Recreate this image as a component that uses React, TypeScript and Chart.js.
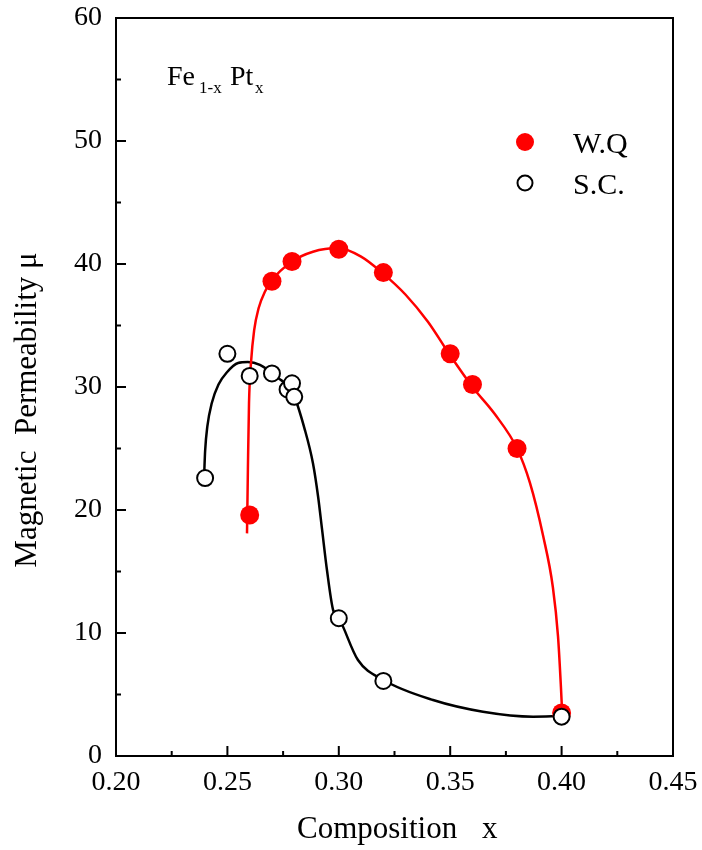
import React, { useEffect, useRef } from "react";
import { Chart, registerables } from "chart.js";

Chart.register(...registerables);

// Measured points
const wqX = [0.26, 0.27, 0.279, 0.30, 0.32, 0.35, 0.36, 0.38, 0.40];
const wqY = [19.6, 38.6, 40.2, 41.2, 39.3, 32.7, 30.2, 25.0, 3.5];
const scX = [0.24, 0.25, 0.26, 0.27, 0.277, 0.279, 0.28, 0.30, 0.32, 0.40];
const scY = [22.6, 32.7, 30.9, 31.1, 29.8, 30.3, 29.2, 11.2, 6.1, 3.2];

// Guide curves (traced)
const wqCurveX = [0.2588, 0.2592, 0.2597, 0.2606, 0.2620, 0.2640, 0.2670, 0.2696, 0.279, 0.2884, 0.2996, 0.31, 0.3194, 0.33, 0.34, 0.3495, 0.36, 0.37, 0.38, 0.3858, 0.3917, 0.3961, 0.3984, 0.3997, 0.4002];
const wqCurveY = [18.1, 23.3, 28.7, 32.0, 34.6, 36.4, 37.8, 38.6, 40.2, 41.0, 41.3, 40.6, 39.3, 37.5, 35.3, 32.7, 30.0, 27.8, 25.0, 22.2, 17.9, 13.7, 9.7, 5.6, 3.7];
const scCurveX = [0.2396, 0.2400, 0.2410, 0.2430, 0.2460, 0.2498, 0.2548, 0.2592, 0.2646, 0.2723, 0.2794, 0.2848, 0.2884, 0.2907, 0.2925, 0.2947, 0.2974, 0.3001, 0.3086, 0.3198, 0.3423, 0.3647, 0.3872, 0.3997];
const scCurveY = [23.0, 24.8, 26.8, 28.7, 30.2, 31.2, 31.95, 32.03, 31.8, 30.8, 29.5, 26.5, 23.8, 21.1, 18.4, 15.1, 11.9, 11.2, 7.8, 6.2, 4.55, 3.6, 3.2, 3.25];

const xTicks = [0.2, 0.25, 0.3, 0.35, 0.4, 0.45];
const yTicks = [0, 10, 20, 30, 40, 50, 60];
const xMinor = [0.225, 0.275, 0.325, 0.375, 0.425];
const yMinor = [5, 15, 25, 35, 45, 55];

const FONT = "'Liberation Serif', 'Times New Roman', serif";

const pts = (xs: number[], ys: number[]) => xs.map((x, i) => ({ x, y: ys[i] }));

const decorPlugin = {
  id: "decor",
  afterDraw(chart: any) {
    const { ctx, chartArea } = chart;
    const { left, right, top, bottom } = chartArea;
    const xs = chart.scales.x;
    const ys = chart.scales.y;
    ctx.save();
    ctx.strokeStyle = "#000";
    ctx.lineWidth = 2;
    ctx.strokeRect(left, top, right - left, bottom - top);
    ctx.beginPath();
    xTicks.forEach((v) => {
      const p = xs.getPixelForValue(v);
      ctx.moveTo(p, bottom);
      ctx.lineTo(p, bottom - 10);
    });
    xMinor.forEach((v) => {
      const p = xs.getPixelForValue(v);
      ctx.moveTo(p, bottom);
      ctx.lineTo(p, bottom - 5);
    });
    yTicks.forEach((v) => {
      const p = ys.getPixelForValue(v);
      ctx.moveTo(left, p);
      ctx.lineTo(left + 10, p);
    });
    yMinor.forEach((v) => {
      const p = ys.getPixelForValue(v);
      ctx.moveTo(left, p);
      ctx.lineTo(left + 5, p);
    });
    ctx.stroke();

    // axis titles
    ctx.fillStyle = "#000";
    ctx.font = `31px ${FONT}`;
    ctx.textAlign = "left";
    ctx.textBaseline = "alphabetic";
    ctx.fillText("Composition", 297, 838);
    ctx.fillText("x", 482, 838);
    ctx.save();
    ctx.translate(36, 410);
    ctx.rotate(-Math.PI / 2);
    ctx.textAlign = "center";
    ctx.fillText("Magnetic  Permeability \u03bc", 0, 0);
    ctx.restore();

    // formula label
    ctx.textAlign = "left";
    ctx.font = `28px ${FONT}`;
    ctx.fillText("Fe", 167, 85);
    ctx.font = `17px ${FONT}`;
    ctx.fillText("1-x", 199, 93);
    ctx.font = `28px ${FONT}`;
    ctx.fillText("Pt", 230, 85);
    ctx.font = `17px ${FONT}`;
    ctx.fillText("x", 255, 93);

    // legend
    ctx.beginPath();
    ctx.fillStyle = "#ff0000";
    ctx.arc(525, 142, 9, 0, Math.PI * 2);
    ctx.fill();
    ctx.beginPath();
    ctx.fillStyle = "#fff";
    ctx.strokeStyle = "#000";
    ctx.lineWidth = 2;
    ctx.arc(525, 183, 7.5, 0, Math.PI * 2);
    ctx.fill();
    ctx.stroke();
    ctx.fillStyle = "#000";
    ctx.font = `30px ${FONT}`;
    ctx.textBaseline = "alphabetic";
    ctx.fillText("W.Q", 573, 153);
    ctx.fillText("S.C.", 573, 194);
    ctx.restore();
  },
};

export default function App() {
  const ref = useRef<HTMLCanvasElement | null>(null);
  useEffect(() => {
    document.body.style.margin = "0";
    const chart = new Chart(ref.current as HTMLCanvasElement, {
      type: "scatter",
      data: {
        datasets: [
          {
            label: "S.C.",
            data: pts(scX, scY),
            showLine: false,
            pointRadius: 8,
            pointHoverRadius: 8,
            pointBackgroundColor: "#fff",
            pointBorderColor: "#000",
            pointBorderWidth: 2,
            order: 0,
          },
          {
            label: "W.Q",
            data: pts(wqX, wqY),
            showLine: false,
            pointRadius: 9.5,
            pointHoverRadius: 9.5,
            pointBackgroundColor: "#ff0000",
            pointBorderColor: "#ff0000",
            pointBorderWidth: 0,
            order: 1,
          },
          {
            label: "W.Q fit",
            data: pts(wqCurveX, wqCurveY),
            showLine: true,
            pointRadius: 0,
            borderColor: "#ff0000",
            borderWidth: 2.5,
            cubicInterpolationMode: "monotone",
            order: 2,
          },
          {
            label: "S.C. fit",
            data: pts(scCurveX, scCurveY),
            showLine: true,
            pointRadius: 0,
            borderColor: "#000",
            borderWidth: 2.5,
            cubicInterpolationMode: "monotone",
            order: 3,
          },
        ],
      },
      options: {
        animation: false,
        responsive: false,
        layout: { padding: { top: 18, right: 29, left: 0, bottom: 0 } },
        plugins: { legend: { display: false }, tooltip: { enabled: false } },
        scales: {
          x: {
            type: "linear",
            min: 0.2,
            max: 0.45,
            afterBuildTicks: (s: any) => {
              s.ticks = xTicks.map((v) => ({ value: v }));
            },
            afterFit: (s: any) => {
              s.height = 94;
              s.paddingLeft = 0;
              s.paddingRight = 0;
            },
            grid: { display: false },
            border: { display: false },
            ticks: {
              color: "#000",
              font: { family: FONT, size: 28 },
              padding: 2,
              maxRotation: 0,
              callback: (v: any) => Number(v).toFixed(2),
            },
          },
          y: {
            type: "linear",
            min: 0,
            max: 60,
            afterBuildTicks: (s: any) => {
              s.ticks = yTicks.map((v) => ({ value: v }));
            },
            afterFit: (s: any) => {
              s.width = 116;
              s.paddingTop = 0;
              s.paddingBottom = 0;
            },
            grid: { display: false },
            border: { display: false },
            ticks: {
              color: "#000",
              font: { family: FONT, size: 28 },
              padding: 6,
            },
          },
        },
      },
      plugins: [decorPlugin],
    });
    return () => chart.destroy();
  }, []);
  return (
    <div style={{ position: "absolute", left: 0, top: 0, width: 702, height: 850 }}>
      <canvas ref={ref} width={702} height={850} style={{ width: 702, height: 850 }} />
    </div>
  );
}
